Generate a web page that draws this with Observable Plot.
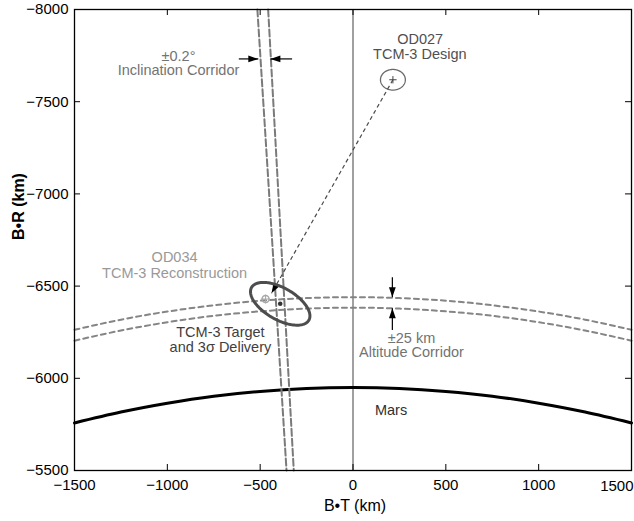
<!DOCTYPE html>
<html>
<head>
<meta charset="utf-8">
<script src="https://cdn.jsdelivr.net/npm/d3@7"></script>
<script src="https://cdn.jsdelivr.net/npm/@observablehq/plot@0.6"></script>
<style>
  body { margin: 0; background: #fff; }
  #chart { width: 634px; height: 521px; }
</style>
</head>
<body>
<div id="chart"></div>
<script>
// B-plane axes (km)
const xTicks = [-1500, -1000, -500, 0, 500, 1000, 1500];
const yTicks = [-8000, -7500, -7000, -6500, -6000, -5500];

// Mars impact limb [B•T, B•R]
const marsLimb = [
  [-1500, -5758], [-1250, -5817], [-1000, -5865], [-750, -5903], [-500, -5929],
  [-250, -5945], [0, -5950], [250, -5945], [500, -5929], [750, -5903],
  [1000, -5865], [1250, -5817], [1500, -5758]
];

// ±25 km altitude corridor boundaries
const altitudeOuter = [
  [-1500, -6263], [-1250, -6318], [-1000, -6362], [-750, -6396], [-500, -6421],
  [-250, -6435], [0, -6440], [250, -6435], [500, -6421], [750, -6396],
  [1000, -6362], [1250, -6318], [1500, -6263]
];
const altitudeInner = [
  [-1500, -6204], [-1250, -6259], [-1000, -6304], [-750, -6339], [-500, -6363],
  [-250, -6378], [0, -6383], [250, -6378], [500, -6363], [750, -6339],
  [1000, -6304], [1250, -6259], [1500, -6204]
];

// ±0.2° inclination corridor boundaries
const inclinationLeft = [[-515, -8000], [-429, -6642], [-358, -5500]];
const inclinationRight = [[-457, -8000], [-382, -6642], [-319, -5500]];

// Dispersion ellipses: centre, semi-axes (km), tilt (deg)
const designEllipse = { x: 215, y: -7619, a: 67, b: 56, tilt: 0 };
const deliveryEllipse = { x: -392, y: -6404, a: 178, b: 86, tilt: 30 };

// Aim points
const designPoint = [[215, -7619]];
const targetPoint = [[-392, -6404]];
const reconstructionPoint = [[-471, -6430]];

// Design-to-reconstruction shift
const shift = [{ x1: 215, y1: -7619, x2: -439, y2: -6461 }];

// Corridor width indicators
const inclinationArrows = [
  { x1: -615, y1: -7732, x2: -510, y2: -7732 },
  { x1: -328, y1: -7732, x2: -445, y2: -7732 }
];
const altitudeArrows = [
  { x1: 212, y1: -6548, x2: 212, y2: -6440 },
  { x1: 212, y1: -6262, x2: 212, y2: -6380 }
];

// Annotations
const labelsCorridor = [
  { text: "±0.2°", x: -940, y: -7748 },
  { text: "Inclination Corridor", x: -940, y: -7668 },
  { text: "±25 km", x: 315, y: -6217 },
  { text: "Altitude Corridor", x: 315, y: -6139 }
];
const labelsDesign = [
  { text: "OD027", x: 362, y: -7838 },
  { text: "TCM-3 Design", x: 360, y: -7757 }
];
const labelsReconstruction = [
  { text: "OD034", x: -961, y: -6658 },
  { text: "TCM-3 Reconstruction", x: -961, y: -6569 }
];
const labelsTarget = [
  { text: "TCM-3 Target", x: -714, y: -6247 },
  { text: "and 3σ Delivery", x: -714, y: -6168 }
];
const labelsBody = [{ text: "Mars", x: 205, y: -5824 }];

// Outline of an ellipse from its centre, semi-axes and tilt
function outline(e) {
  const phi = e.tilt * Math.PI / 180;
  return d3.range(0, 361, 3).map(deg => {
    const t = deg * Math.PI / 180;
    const u = e.a * Math.cos(t), v = e.b * Math.sin(t);
    return [e.x + u * Math.cos(phi) - v * Math.sin(phi), e.y + u * Math.sin(phi) + v * Math.cos(phi)];
  });
}

// Filled arrowhead with its tip at the origin, pointing up
const arrowHead = {
  draw(ctx) {
    ctx.moveTo(0, 0);
    ctx.lineTo(-3.4, 10);
    ctx.lineTo(3.4, 10);
    ctx.closePath();
  }
};

const fmt = d => (d < 0 ? "\u2212" + Math.abs(d) : String(d));
const W = 634, H = 521, ML = 74, MR = 3, MT = 9, MB = 51;
const innerW = W - ML - MR, innerH = H - MT - MB;
const tickLen = 6;
const font = "'Liberation Sans', Arial, Helvetica, sans-serif";
const px = d => d[0], py = d => d[1];
const noteSize = 14.5;
const xLast = xTicks[xTicks.length - 1];

const chart = Plot.plot({
  width: W,
  height: H,
  marginLeft: ML,
  marginRight: MR,
  marginTop: MT,
  marginBottom: MB,
  style: { fontFamily: font, fontSize: "15px", background: "#fff", color: "#000" },
  x: { domain: [-1500, 1500], axis: null },
  y: { domain: [-8000, -5500], reverse: true, axis: null },
  marks: [
    // altitude corridor
    Plot.line(altitudeOuter, { x: px, y: py, curve: "natural", stroke: "#858585", strokeWidth: 2, strokeDasharray: "5,4" }),
    Plot.line(altitudeInner, { x: px, y: py, curve: "natural", stroke: "#858585", strokeWidth: 2, strokeDasharray: "5,4" }),
    // B•T = 0
    Plot.ruleX([0], { stroke: "#808080", strokeWidth: 1.5 }),
    // Mars limb
    Plot.line(marsLimb, { x: px, y: py, curve: "natural", stroke: "#000", strokeWidth: 3 }),
    // inclination corridor
    Plot.line(inclinationLeft, { x: px, y: py, stroke: "#7a7a7a", strokeWidth: 2, strokeDasharray: "7,3" }),
    Plot.line(inclinationRight, { x: px, y: py, stroke: "#7a7a7a", strokeWidth: 2, strokeDasharray: "7,3" }),
    // design ellipse and shift
    Plot.line(outline(designEllipse), { x: px, y: py, stroke: "#6a6a6a", strokeWidth: 1.3 }),
    Plot.dot(designPoint, { x: px, y: py, symbol: "plus", r: 2.5, stroke: "#444", strokeWidth: 1 }),
    Plot.link(shift, { x1: "x1", y1: "y1", x2: "x2", y2: "y2", stroke: "#4a4a4a", strokeWidth: 1.2, strokeDasharray: "4,3" }),
    Plot.dot(shift, { x: "x2", y: "y2", symbol: arrowHead, r: 3, fill: "#000", stroke: "none", rotate: 210 }),
    // delivery ellipse and aim points
    Plot.line(outline(deliveryEllipse), { x: px, y: py, stroke: "#4d4d4d", strokeWidth: 3 }),
    Plot.dot(reconstructionPoint, { x: px, y: py, r: 3.5, stroke: "#a8a8a8", strokeWidth: 1.5, fill: "none" }),
    Plot.dot(reconstructionPoint, { x: px, y: py, symbol: "plus", r: 3, stroke: "#a8a8a8", strokeWidth: 1 }),
    Plot.dot(targetPoint, { x: px, y: py, r: 2.3, fill: "#333", stroke: "none" }),
    // corridor width indicators
    Plot.link(inclinationArrows, { x1: "x1", y1: "y1", x2: "x2", y2: "y2", stroke: "#000", strokeWidth: 1.2 }),
    Plot.dot([inclinationArrows[0]], { x: "x2", y: "y2", symbol: arrowHead, r: 3, fill: "#000", stroke: "none", rotate: 90 }),
    Plot.dot([inclinationArrows[1]], { x: "x2", y: "y2", symbol: arrowHead, r: 3, fill: "#000", stroke: "none", rotate: -90 }),
    Plot.link(altitudeArrows, { x1: "x1", y1: "y1", x2: "x2", y2: "y2", stroke: "#000", strokeWidth: 1.2 }),
    Plot.dot([altitudeArrows[0]], { x: "x2", y: "y2", symbol: arrowHead, r: 3, fill: "#000", stroke: "none", rotate: 180 }),
    Plot.dot([altitudeArrows[1]], { x: "x2", y: "y2", symbol: arrowHead, r: 3, fill: "#000", stroke: "none", rotate: 0 }),
    // annotations
    Plot.text(labelsCorridor, { x: "x", y: "y", text: "text", fill: "#737373", fontSize: noteSize }),
    Plot.text(labelsDesign, { x: "x", y: "y", text: "text", fill: "#505050", fontSize: noteSize }),
    Plot.text(labelsReconstruction, { x: "x", y: "y", text: "text", fill: "#999", fontSize: noteSize }),
    Plot.text(labelsTarget, { x: "x", y: "y", text: "text", fill: "#404040", fontSize: noteSize }),
    Plot.text(labelsBody, { x: "x", y: "y", text: "text", fill: "#303030", fontSize: noteSize }),
    // inward ticks on all four sides
    Plot.tickX(xTicks, { x: d => d, insetTop: innerH - tickLen, stroke: "#000" }),
    Plot.tickX(xTicks, { x: d => d, insetBottom: innerH - tickLen, stroke: "#000" }),
    Plot.tickY(yTicks, { y: d => d, insetLeft: innerW - tickLen, stroke: "#000" }),
    Plot.tickY(yTicks, { y: d => d, insetRight: innerW - tickLen, stroke: "#000" }),
    // tick labels (the last x label is kept inside the canvas)
    Plot.axisX(xTicks.slice(0, -1), { anchor: "bottom", tickSize: 0, tickPadding: 9, tickFormat: fmt, label: null, fontSize: 15 }),
    Plot.text([xLast], { x: d => d, text: fmt, frameAnchor: "bottom", textAnchor: "end", lineAnchor: "top", dy: 10, dx: 2, fontSize: 15 }),
    Plot.axisY(yTicks, { anchor: "left", tickSize: 0, tickPadding: 6, tickFormat: fmt, label: null, fontSize: 15 }),
    // axis titles
    Plot.text(["B•T (km)"], { frameAnchor: "bottom", dy: 40, dx: 2, fontSize: 16 }),
    Plot.text(["B•R (km)"], { frameAnchor: "left", dx: -56, rotate: -90, fontSize: 16, fontWeight: "bold" }),
    Plot.frame({ stroke: "#000", strokeWidth: 1.3 })
  ]
});

document.getElementById("chart").appendChild(chart);
</script>
</body>
</html>
